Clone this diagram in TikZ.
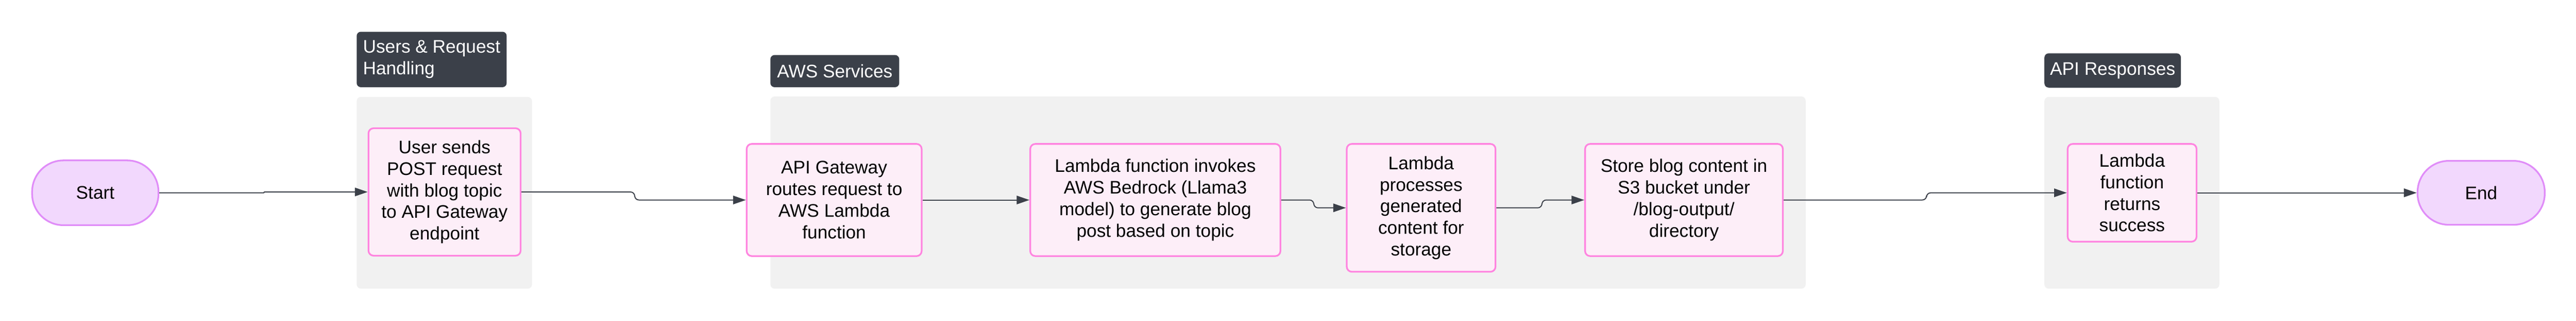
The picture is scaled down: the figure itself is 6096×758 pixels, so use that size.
\documentclass[tikz,border=0pt]{standalone}
\usepackage{fontspec}
\setmainfont{Liberation Sans}
\usetikzlibrary{arrows.meta}
\definecolor{grp}{HTML}{F1F1F1}
\definecolor{lab}{HTML}{3B4049}
\definecolor{pinkf}{HTML}{FDEEF8}
\definecolor{pinkb}{HTML}{FF85E0}
\definecolor{termf}{HTML}{F2D8FD}
\definecolor{termb}{HTML}{E08DF8}
\definecolor{arr}{HTML}{3B4049}
\begin{document}
\begin{tikzpicture}[x=0.25pt,y=-0.25pt,
  font=\fontsize{10.75}{12.75}\selectfont,
  proc/.style={draw=pinkb, fill=pinkf, line width=1pt, rounded corners=3pt, inner sep=0pt, align=center, text=black},
  term/.style={draw=termb, fill=termf, line width=1pt, rounded corners=18.5pt, inner sep=0pt, align=center, text=black},
  grpbox/.style={fill=grp, rounded corners=2.5pt, inner sep=0pt},
  grplabel/.style={fill=lab, rounded corners=2.5pt, inner sep=0pt, text=white},
  flow/.style={draw=arr, line width=0.6pt, rounded corners=2.5pt, -{Triangle[length=7.5pt,width=5pt]}}
]
\useasboundingbox (0,0) rectangle (6096,758);
% groups
\node[grpbox, minimum width=103.75pt, minimum height=113.25pt] (g1) at (1051.5,455.5) {};
\node[grpbox, minimum width=612.5pt, minimum height=113.5pt] (g2) at (3048,455) {};
\node[grpbox, minimum width=103.5pt, minimum height=113.25pt] (g3) at (5045,455.5) {};
\node[grplabel, align=left, minimum width=88.75pt, minimum height=32.75pt] (l1) at (1021.5,140.5) {Users \& Request\\Handling};
\node[grplabel, align=center, minimum width=76.25pt, minimum height=19pt] (l2) at (1975.5,168) {AWS Services};
\node[grplabel, align=center, minimum width=80.75pt, minimum height=20.25pt] (l3) at (4999.5,166.5) {API Responses};
% nodes
\node[term, minimum width=74.75pt, minimum height=38.25pt] (start) at (225.5,455.5) {Start};
\node[proc, minimum width=90pt, minimum height=75.25pt] (user) at (1052,453.5) {User sends\\POST request\\with blog topic\\to API Gateway\\endpoint};
\node[proc, minimum width=103.5pt, minimum height=66.25pt] (api) at (1974,472.5) {API Gateway\\routes request to\\AWS Lambda\\function};
\node[proc, minimum width=148pt, minimum height=66.25pt] (invoke) at (2734,472.5) {Lambda function invokes\\AWS Bedrock (Llama3\\model) to generate blog\\post based on topic};
\node[proc, minimum width=88pt, minimum height=75.5pt] (proc) at (3363,491) {Lambda\\processes\\generated\\content for\\storage};
\node[proc, minimum width=117pt, minimum height=66.25pt] (store) at (3985,472.5) {Store blog content in\\S3 bucket under\\/blog-output/\\directory};
\node[proc, minimum width=76.25pt, minimum height=57.75pt] (ret) at (5045.5,455.5) {Lambda\\function\\returns\\success};
\node[term, minimum width=75.25pt, minimum height=37.75pt] (end) at (5871.5,455.5) {End};
% connectors
\draw[flow, rounded corners=0.2pt] (start.east) -- ++(248,0) |- (user.west);
\draw[flow] (user.east) -- ++(268,0) |- (api.west);
\draw[flow] (api.east) -- (invoke.west);
\draw[flow] (invoke.east) -- ++(77,0) |- (proc.west);
\draw[flow] (proc.east) -- ++(108,0) |- (store.west);
\draw[flow] (store.east) -- ++(338,0) |- (ret.west);
\draw[flow] (ret.east) -- (end.west);
\end{tikzpicture}
\end{document}
